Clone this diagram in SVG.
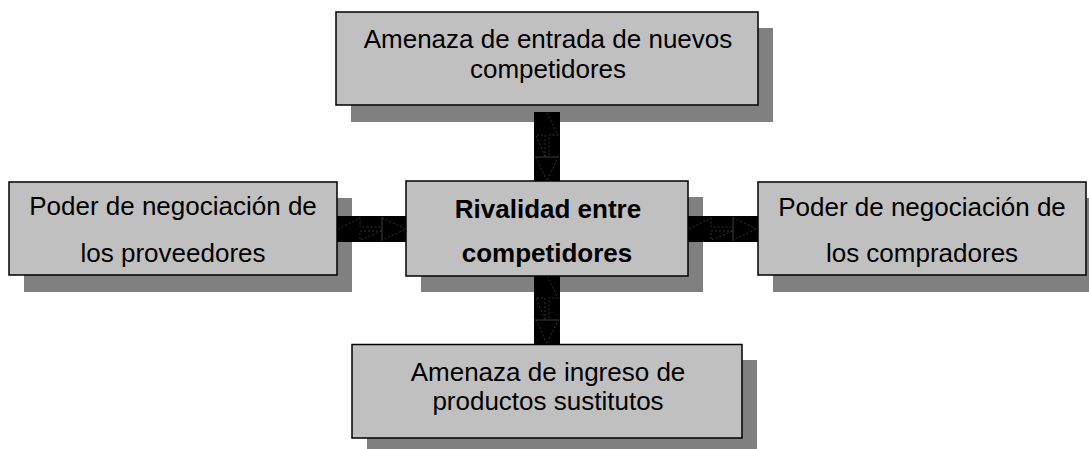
<svg xmlns="http://www.w3.org/2000/svg" width="1089" height="449" viewBox="0 0 1089 449">
<defs>
<style>
.shadow{fill:#808080;}
.box{fill:#c0c0c0;stroke:#000;stroke-width:1.5;}
.conn{fill:#000;}
.arr{fill:none;stroke:#333;stroke-width:1;stroke-dasharray:2 2;}
.bar{fill:none;stroke:#333;stroke-width:1.2;}
.t{font-family:"Liberation Sans",Arial,sans-serif;font-size:26px;fill:#000;text-anchor:middle;}
.b{font-weight:bold;}
</style>
</defs>
<rect width="1089" height="449" fill="#fff"/>
<g id="shadows">
<rect class="shadow" x="351" y="28" width="422" height="94"/>
<rect class="shadow" x="24" y="198" width="328" height="94"/>
<rect class="shadow" x="421" y="197" width="282" height="95"/>
<rect class="shadow" x="773" y="198" width="328" height="94"/>
<rect class="shadow" x="367" y="360" width="390" height="100"/>
</g>
<g id="connectors">
<g id="c-top">
<rect class="conn" x="534" y="112" width="26" height="70"/>
<path class="arr" d="M547,113 L558,135 L549,135 L549,157 M545,157 L545,135 L536,135 Z M536,157 L547,181 L558,157"/>
<path class="bar" d="M535,157 H559"/>
</g>
<g id="c-bottom">
<rect class="conn" x="534" y="275" width="26" height="70"/>
<path class="arr" d="M547,276 L558,298 L549,298 L549,320 M545,320 L545,298 L536,298 Z M536,320 L547,344 L558,320"/>
<path class="bar" d="M535,320 H559"/>
</g>
<g id="c-left">
<rect class="conn" x="336" y="216" width="71" height="26"/>
<path class="arr" d="M338,229 L360,218 L360,227 L382,227 M382,231 L360,231 L360,240 Z M382,218 L406,229 L382,240"/>
<path class="bar" d="M382,217 V241"/>
</g>
<g id="c-right">
<rect class="conn" x="687" y="216" width="72" height="26"/>
<path class="arr" d="M689,229 L711,218 L711,227 L733,227 M733,231 L711,231 L711,240 Z M733,218 L757,229 L733,240"/>
<path class="bar" d="M733,217 V241"/>
</g>
</g>
<g id="n-top">
<rect class="box" x="336" y="12" width="422" height="93"/>
<text class="t" x="548" y="48">Amenaza de entrada de nuevos</text>
<text class="t" x="548" y="78">competidores</text>
</g>
<g id="n-left">
<rect class="box" x="9" y="182" width="328" height="93"/>
<text class="t" x="173" y="215">Poder de negociación de</text>
<text class="t" x="173" y="262">los proveedores</text>
</g>
<g id="n-center">
<rect class="box" x="406" y="181" width="282" height="95"/>
<text class="t b" x="548" y="218">Rivalidad entre</text>
<text class="t b" x="547" y="262">competidores</text>
</g>
<g id="n-right">
<rect class="box" x="758" y="182" width="328" height="93"/>
<text class="t" x="922" y="216">Poder de negociación de</text>
<text class="t" x="922" y="262">los compradores</text>
</g>
<g id="n-bottom">
<rect class="box" x="352" y="344.5" width="390" height="93.5"/>
<text class="t" x="548" y="381">Amenaza de ingreso de</text>
<text class="t" x="548" y="410">productos sustitutos</text>
</g>
</svg>
